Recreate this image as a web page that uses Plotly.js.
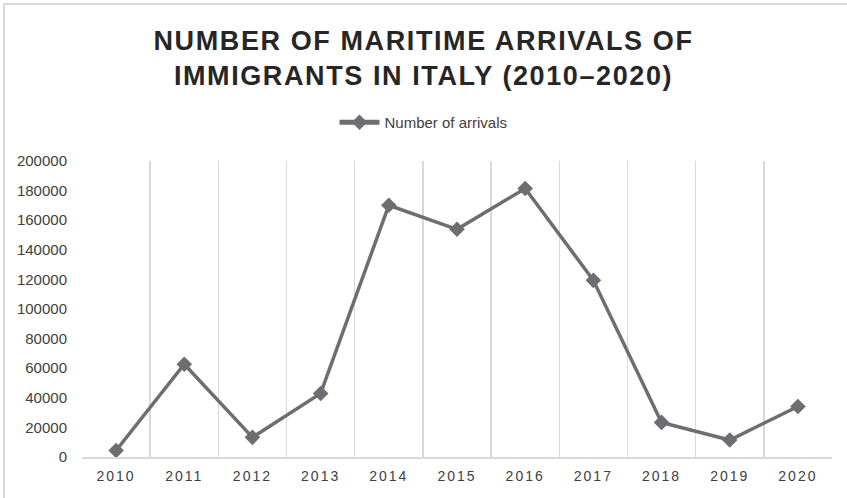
<!DOCTYPE html>
<html>
<head>
<meta charset="utf-8">
<script src="https://cdn.plot.ly/plotly-3.0.1.min.js"></script>
<style>
  html, body { margin: 0; padding: 0; background: #ffffff; }
  #wrap { position: relative; width: 847px; height: 498px; overflow: hidden; }
  #chart { position: absolute; left: 0; top: 0; width: 847px; height: 498px; }
  #frame { position: absolute; left: 3px; top: 3px; width: 900px; height: 600px;
           border-left: 2px solid #d9d9d9; border-top: 2px solid #d9d9d9; pointer-events: none; }
  .gtitle { letter-spacing: 1.6px; }
  .xtick text { letter-spacing: 2px; }
</style>
</head>
<body>
<div id="wrap">
  <div id="chart"></div>
  <div id="frame"></div>
</div>
<script>
const years = ["2010","2011","2012","2013","2014","2015","2016","2017","2018","2019","2020"];
const arrivals = [4406, 62692, 13267, 42925, 170100, 153842, 181436, 119369, 23370, 11471, 34154];
const seriesName = "Number of arrivals";
const titleText = "NUMBER OF MARITIME ARRIVALS OF<br>IMMIGRANTS IN ITALY (2010–2020)";
const yTicks = [0, 20000, 40000, 60000, 80000, 100000, 120000, 140000, 160000, 180000, 200000];

const trace = {
  x: years,
  y: arrivals,
  type: "scatter",
  mode: "lines+markers",
  name: seriesName,
  line: { color: "#6e6e72", width: 3.5 },
  marker: { symbol: "diamond", size: 12, color: "#6e6e72" },
  showlegend: true
};

const layout = {
  width: 847,
  height: 498,
  margin: { l: 82, r: 15, t: 161, b: 41, pad: 0, autoexpand: false },
  paper_bgcolor: "#ffffff",
  plot_bgcolor: "#ffffff",
  font: { family: "Liberation Sans, Arial, sans-serif", color: "#404040", size: 15 },
  title: {
    text: titleText,
    x: 0.5,
    xanchor: "center",
    xref: "container",
    y: 0.899,
    yanchor: "top",
    yref: "container",
    font: { family: "Liberation Sans, Arial, sans-serif", size: 27, color: "#262626", weight: "bold" }
  },
  showlegend: true,
  legend: {
    orientation: "h",
    x: 0.5,
    xanchor: "center",
    xref: "container",
    y: 1 - 106 / 498,
    yanchor: "top",
    yref: "container",
    itemwidth: 40,
    itemsizing: "constant",
    font: { family: "Liberation Sans, Arial, sans-serif", size: 15, color: "#404040" },
    bgcolor: "rgba(0,0,0,0)"
  },
  xaxis: {
    type: "category",
    range: [-0.5, 10.5],
    tickson: "boundaries",
    showgrid: true,
    gridcolor: "#d9d9d9",
    gridwidth: 1.5,
    showline: true,
    linecolor: "#d9d9d9",
    linewidth: 1.5,
    ticks: "",
    zeroline: false,
    ticklabelstandoff: 6,
    tickfont: { size: 14, color: "#404040" },
    fixedrange: true
  },
  yaxis: {
    range: [0, 200000],
    tickvals: yTicks,
    tickformat: "d",
    showgrid: false,
    zeroline: false,
    showline: false,
    ticks: "",
    ticklabelstandoff: 14,
    tickfont: { size: 15, color: "#404040" },
    fixedrange: true
  }
};

Plotly.newPlot("chart", [trace], layout, { displayModeBar: false, staticPlot: true });
</script>
</body>
</html>
